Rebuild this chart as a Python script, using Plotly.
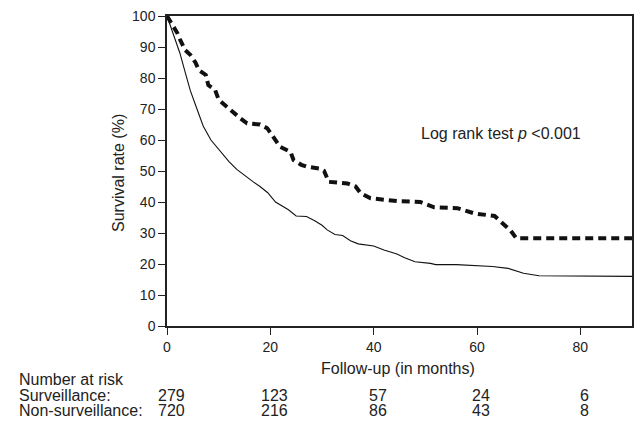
import plotly.graph_objects as go

# ---- data ----
surv_months = [0, 1, 2, 2.5, 3.5, 4.5, 5.5, 6.2, 7.5, 8, 9.3, 10, 11.5, 13, 14.2, 15.5, 18, 19.4,
               20.6, 21.9, 23.9, 24.5, 26, 27.1, 29.5, 30.4, 31.3, 34.9, 36.5, 37.5, 39.4, 44.6,
               49, 50.5, 51.7, 56.2, 58.5, 59.5, 63.4, 64, 65.3, 66.5, 67.6, 90]
surv_rate = [100, 97.5, 94.5, 92.5, 89, 87.5, 85, 82.5, 81, 77.7, 76.2, 73, 70.8, 68.5, 67, 65.4, 65, 63.8,
             61, 57.8, 56.2, 53.5, 52, 51.4, 50.8, 50, 46.5, 46, 45, 42.8, 41.2, 40.3,
             40, 39.2, 38.3, 38, 37, 36.3, 35.5, 34.5, 32.6, 30.8, 28.3, 28.3]

non_months = [0, 1, 2, 2.5, 3.5, 4.5, 5.8, 7, 8.5, 10.3, 12, 13.5, 15, 16.7, 18, 19.5, 21, 22.5,
              23.5, 25, 27, 28.5, 30, 31, 32.5, 34, 35.5, 37, 40, 42, 44.5, 46, 48, 51, 52, 56,
              59, 63, 66, 68, 69, 72, 90]
non_rate = [100, 95, 90, 88, 82, 76, 70, 64.5, 60, 56.5, 53, 50.5, 48.5, 46.5, 45, 43, 40, 38.5,
            37.5, 35.5, 35.3, 34, 32.5, 31, 29.5, 29.2, 27.5, 26.5, 25.8, 24.5, 23.2, 22, 20.7, 20.2, 19.8, 19.8,
            19.5, 19.2, 18.6, 17.6, 17, 16.2, 16]

x_ticks = [0, 20, 40, 60, 80]
y_ticks = [0, 10, 20, 30, 40, 50, 60, 70, 80, 90, 100]
risk_surv = ["279", "123", "57", "24", "6"]
risk_non = ["720", "216", "86", "43", "8"]

FONT = "Liberation Sans, Arial, sans-serif"
TXT = "#222222"
TS = 16   # text size
KS = 14   # tick size

fig = go.Figure()
fig.add_trace(go.Scatter(x=non_months, y=non_rate, mode="lines",
                         line=dict(color="#111111", width=1.1), name="Non-surveillance",
                         showlegend=False))
fig.add_trace(go.Scatter(x=surv_months, y=surv_rate, mode="lines",
                         line=dict(color="#111111", width=4, dash="8px,5px"), name="Surveillance",
                         showlegend=False))

L, T, PW, PH = 167, 16, 465, 310


def py(pix):
    return (T + PH - pix) / PH


def px(pix):
    return (pix - L) / PW


f = dict(size=TS, color=TXT, family=FONT)
ann = []


def add(x, y, text, xanchor="center", **kw):
    ann.append(dict(x=x, y=y, xref=kw.pop("xref", "paper"), yref="paper", text=text,
                    xanchor=xanchor, yanchor="middle", showarrow=False, font=f, **kw))


add(px(501), py(133), "Log rank test <i>p</i> <0.001")
add(px(118), py(173), "Survival rate (%)", textangle=-90)
add(px(398), py(368), "Follow-up (in months)")
add(px(17), py(379), "Number at risk", xanchor="left")
add(px(17), py(395), "Surveillance:", xanchor="left")
add(px(17), py(410), "Non-surveillance:", xanchor="left")
for t, s, n in zip(x_ticks, risk_surv, risk_non):
    add(t, py(395), s, xref="x", xshift=4)
    add(t, py(410), n, xref="x", xshift=4)

fig.update_layout(
    width=644, height=423,
    margin=dict(l=L, r=644 - L - PW, t=T, b=423 - T - PH),
    paper_bgcolor="white", plot_bgcolor="white",
    font=dict(family=FONT, size=KS, color=TXT),
    annotations=ann,
    xaxis=dict(range=[0, 90], tickvals=x_ticks, ticks="outside", ticklen=7, tickwidth=1.3,
               tickcolor="#222", showline=True, linecolor="#222", linewidth=1.5, mirror=True,
               showgrid=False, zeroline=False, tickfont=dict(size=KS, color=TXT), automargin=False),
    yaxis=dict(range=[0, 100], tickvals=y_ticks, ticks="outside", ticklen=7, tickwidth=1.3,
               tickcolor="#222", showline=True, linecolor="#222", linewidth=1.5, mirror=True,
               showgrid=False, zeroline=False, tickfont=dict(size=KS, color=TXT), automargin=False),
)

fig.write_html("out.html", config={"displayModeBar": False},
               post_script="document.body.style.margin='0';document.body.style.padding='0';")
